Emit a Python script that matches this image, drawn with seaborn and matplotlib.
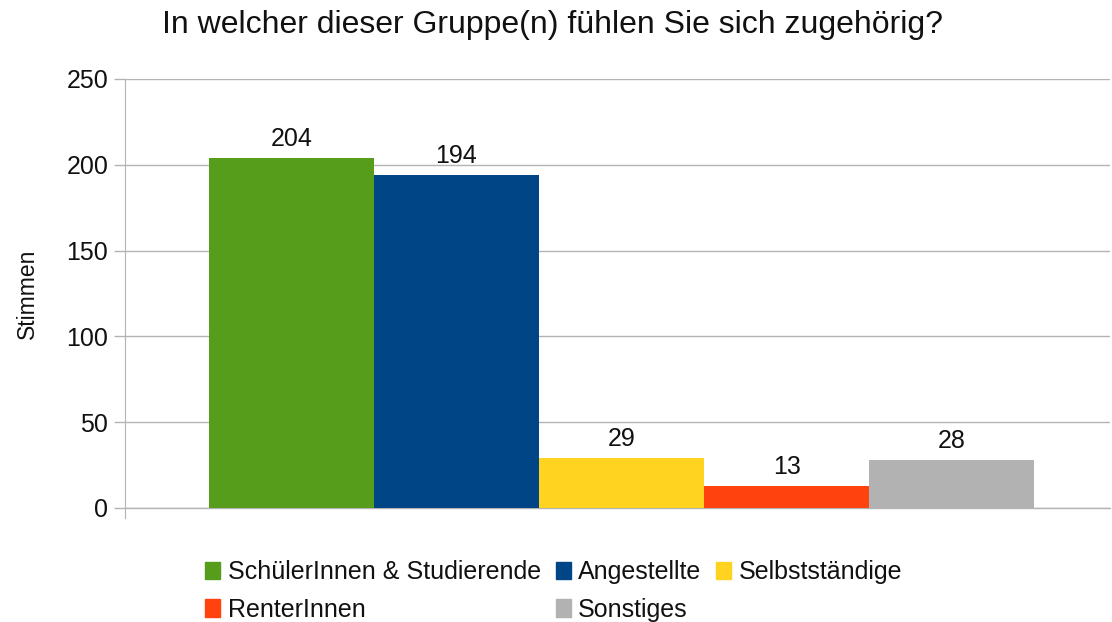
import pandas as pd
import matplotlib
matplotlib.use("Agg")
import matplotlib.pyplot as plt
import seaborn as sns

# data
gruppen = ["SchülerInnen & Studierende", "Angestellte", "Selbstständige",
           "RenterInnen", "Sonstiges"]
stimmen = [204, 194, 29, 13, 28]
farben = ["#579d1c", "#004586", "#ffd320", "#ff420e", "#b2b2b2"]
y_ticks = [0, 50, 100, 150, 200, 250]

df = pd.DataFrame({"frage": [""] * len(gruppen), "Gruppe": gruppen, "Stimmen": stimmen})

sns.set_style("white")
plt.rcParams["font.family"] = ["Liberation Sans", "DejaVu Sans"]

fig = plt.figure(figsize=(11.12, 6.22), dpi=100)
ax = fig.add_axes([0.1124, 0.1833, 0.886, 0.6897])

sns.barplot(data=df, x="frage", y="Stimmen", hue="Gruppe", hue_order=gruppen,
            palette=farben, width=0.838, saturation=1, linewidth=0,
            ax=ax, legend=False)

for c in ax.containers:
    ax.bar_label(c, fontsize=18, padding=5, color="#111111")

ax.set_xlim(-0.504, 0.496)
ax.set_ylim(0, 250)
ax.set_yticks(y_ticks)
ax.yaxis.grid(True, color="#b3b3b3", linewidth=1)
ax.axhline(0, color="#b3b3b3", linewidth=1, clip_on=False, zorder=0.5)
ax.set_axisbelow(True)
ax.tick_params(axis="y", length=8, width=1, color="#b3b3b3", labelsize=18,
               pad=4, left=True, labelcolor="#111111")
ax.tick_params(axis="x", bottom=False, labelbottom=False)
ax.set_xlabel("")
ax.set_ylabel("Stimmen", fontsize=16.5, labelpad=20, color="#111111")

for s in ["top", "right", "bottom"]:
    ax.spines[s].set_visible(False)
ax.spines["left"].set_color("#b3b3b3")
ax.spines["left"].set_bounds(-6, 250)

fig.suptitle("In welcher dieser Gruppe(n) fühlen Sie sich zugehörig?",
             fontsize=23, x=0.497, y=0.984, color="#111111")

handles = [plt.Rectangle((0, 0), 1, 1, color=f) for f in farben]
order = [0, 3, 1, 4, 2]
fig.legend([handles[i] for i in order], [gruppen[i] for i in order],
           ncol=3, loc="lower center", bbox_to_anchor=(0.498, -0.036),
           frameon=False, fontsize=18, handlelength=0.6, handleheight=0.7,
           handletextpad=0.3, columnspacing=0.6, labelspacing=0.55,
           labelcolor="#111111")

fig.savefig("out.png", dpi=100)
